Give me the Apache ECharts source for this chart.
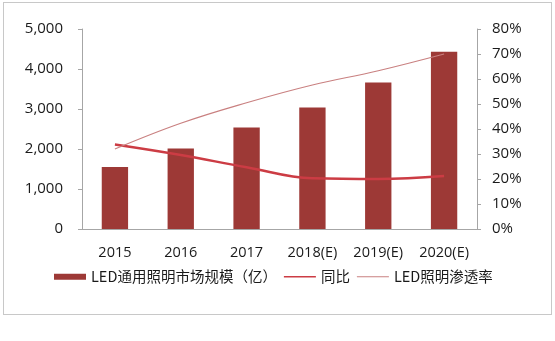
<!DOCTYPE html>
<html><head><meta charset="utf-8">
<script src="https://cdn.jsdelivr.net/npm/echarts@6/dist/echarts.min.js"></script>
<style>html,body{margin:0;padding:0;background:#fff;}#c{width:555px;height:341px;}
#frame{position:absolute;left:3px;top:2px;width:549px;height:313px;border:1px solid #c8c8c8;box-sizing:border-box;pointer-events:none;}</style>
</head><body><div id="c"></div><div id="frame"></div>
<script>
const categories = ['2015','2016','2017','2018(E)','2019(E)','2020(E)'];
const marketSize = [1550, 2010, 2540, 3040, 3660, 4430];
const yoy = [33.8, 29.6, 24.7, 20.3, 20.0, 21.2];
const penetration = [32.0, 42.3, 50.5, 57.6, 63.3, 70.0];
const leftTicks = [0, 1000, 2000, 3000, 4000, 5000];
const rightTicks = [0, 10, 20, 30, 40, 50, 60, 70, 80];

const chart = echarts.init(document.getElementById('c'));
const txt = '#1a1a1a';
chart.setOption({
  animation: false,
  grid: {left: 82, right: 78, top: 29, bottom: 112},
  legend: {
    bottom: 52, left: 49, itemGap: 7, itemHeight: 6,
    textStyle: {fontSize: 14.5, color: txt, fontFamily: 'Noto Sans CJK SC'},
    data: [
      {name: 'LED通用照明市场规模（亿）', icon: 'rect'},
      {name: '同比', icon: 'path://M0,0 L40,0 L40,2 L0,2 Z'},
      {name: 'LED照明渗透率', icon: 'path://M0,0 L40,0 L40,1 L0,1 Z'}
    ],
    itemWidth: 32
  },
  xAxis: {
    type: 'category', data: categories,
    axisLine: {lineStyle: {color: '#a6a6a6'}},
    axisTick: {show: false},
    axisLabel: {fontSize: 14.5, color: txt, margin: 16, interval: 0, fontFamily: 'Open Sans'}
  },
  yAxis: [
    {type: 'value', min: leftTicks[0], max: leftTicks[leftTicks.length-1], interval: 1000,
     axisLine: {show: true, lineStyle: {color: '#a6a6a6'}},
     axisTick: {show: true, length: 4, lineStyle: {color: '#a6a6a6'}},
     splitLine: {show: false},
     axisLabel: {fontSize: 15, color: txt, margin: 19, fontFamily: 'Open Sans',
       formatter: v => v.toLocaleString('en-US')}},
    {type: 'value', min: rightTicks[0], max: rightTicks[rightTicks.length-1], interval: 10,
     axisLine: {show: true, lineStyle: {color: '#a6a6a6'}},
     axisTick: {show: true, length: 4, lineStyle: {color: '#a6a6a6'}},
     splitLine: {show: false},
     axisLabel: {fontSize: 15, color: txt, margin: 15, fontFamily: 'Open Sans',
       formatter: v => v + '%'}}
  ],
  series: [
    {name: 'LED通用照明市场规模（亿）', type: 'bar', data: marketSize, barWidth: '40%',
     itemStyle: {color: '#9d3936'}},
    {name: '同比', type: 'line', yAxisIndex: 1, data: yoy, smooth: 0.4, symbol: 'none',
     lineStyle: {color: '#cc3c44', width: 2.5}, itemStyle: {color: '#cc3c44'}, z: 3},
    {name: 'LED照明渗透率', type: 'line', yAxisIndex: 1, data: penetration, smooth: 0.4, symbol: 'none',
     lineStyle: {color: '#c98080', width: 1.2}, itemStyle: {color: '#c98080'}, z: 3}
  ]
});
</script></body></html>
